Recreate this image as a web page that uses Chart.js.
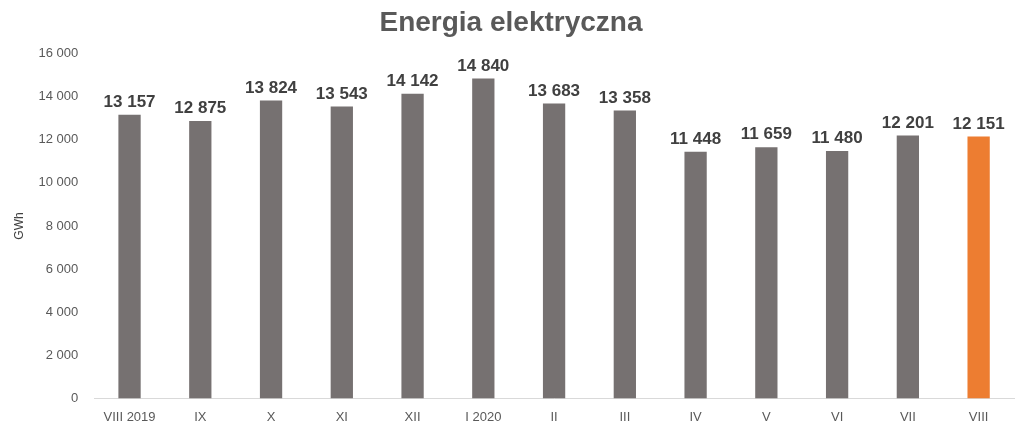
<!DOCTYPE html>
<html><head><meta charset="utf-8">
<script src="https://cdn.jsdelivr.net/npm/chart.js@4"></script>
<style>html,body{margin:0;padding:0;background:#fff}#w{width:1024px;height:432px}</style>
</head><body><div id="w"><canvas id="c" width="1024" height="432"></canvas></div>
<script>
const categories = ["VIII 2019","IX","X","XI","XII","I 2020","II","III","IV","V","VI","VII","VIII"];
const values = [13157,12875,13824,13543,14142,14840,13683,13358,11448,11659,11480,12201,12151];
const yTicks = [0,2000,4000,6000,8000,10000,12000,14000,16000];
const F = "'Liberation Sans Narrow','Arial Narrow','Liberation Sans',Arial,sans-serif";
const fmt = v => String(v).replace(/\B(?=(\d{3})+(?!\d))/g, " ");
const labelPlugin = {
  id:'lbl',
  afterDatasetsDraw(chart){
    const ctx = chart.ctx;
    const meta = chart.getDatasetMeta(0);
    ctx.save();
    ctx.font = "bold 17px " + F;
    ctx.fillStyle = "#404040";
    ctx.textAlign = "center";
    ctx.textBaseline = "bottom";
    meta.data.forEach((b,i)=>{ ctx.fillText(fmt(values[i]), b.x, b.y - 4); });
    ctx.restore();
  }
};
new Chart(document.getElementById('c'), {
  type:'bar',
  data:{labels:categories,datasets:[{data:values,
    backgroundColor:values.map((v,i)=>i===values.length-1?'#ED7D31':'#767171'),
    barPercentage:0.45,categoryPercentage:0.7}]},
  options:{responsive:false,animation:false,
    layout:{padding:{left:8,right:10,top:0,bottom:4}},
    plugins:{legend:{display:false},tooltip:{enabled:false},
      title:{display:true,text:'Energia elektryczna',color:'#595959',
        font:{family:F,size:28,weight:'bold'},padding:{top:6,bottom:14}}},
    scales:{
      x:{grid:{display:false},border:{color:'#d9d9d9'},
        ticks:{color:'#595959',font:{family:F,size:13}}},
      y:{min:0,max:16000,
        afterBuildTicks(s){s.ticks=yTicks.map(v=>({value:v}));},
        grid:{display:false},border:{display:false},
        title:{display:true,text:'GWh',color:'#404040',font:{family:F,size:12}},
        ticks:{color:'#595959',font:{family:F,size:13},callback:v=>fmt(v),padding:8}}
    }}
  ,plugins:[labelPlugin]});
</script></body></html>
